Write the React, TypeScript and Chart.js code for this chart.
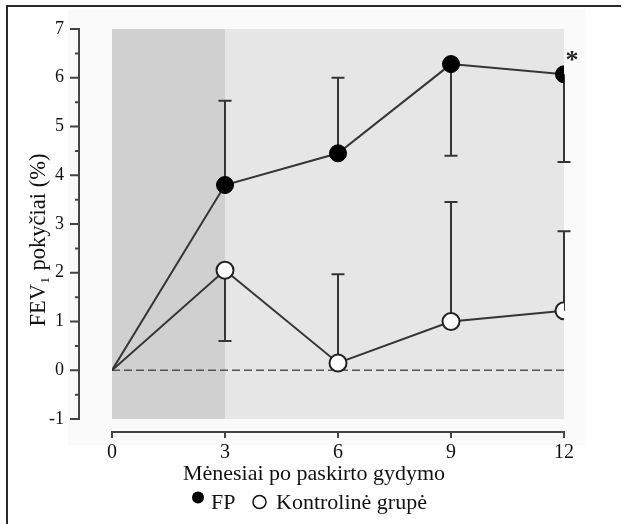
import React, { useEffect, useRef } from "react";
import { Chart, registerables } from "chart.js";

Chart.register(...registerables);

const months = [0, 3, 6, 9, 12];
const fpValues = [0, 3.8, 4.45, 6.28, 6.07];
const fpErrEnd = [null, 5.53, 6.0, 4.4, 4.27];
const ctrlValues = [0, 2.05, 0.15, 1.0, 1.22];
const ctrlErrEnd = [null, 0.6, 1.97, 3.45, 2.85];
const xTicks = [0, 3, 6, 9, 12];
const yMin = -1;
const yMax = 7;
const shadeEnd = 3;
const seriesNames = ["FP", "Kontrolinė grupė"];
const xTitle = "Mėnesiai po paskirto gydymo";
const yTitle = "FEV₁ pokyčiai (%)";
const significance = "*";

const SERIF = "'Liberation Serif', 'DejaVu Serif', serif";
const LINE = "#353535";

const decorPlugin = {
  id: "decor",
  beforeDraw(chart: any) {
    const ctx = chart.ctx;
    const { left, right, top, bottom } = chart.chartArea;
    const xs = chart.scales.x;
    ctx.save();
    ctx.fillStyle = "#ffffff";
    ctx.fillRect(0, 0, chart.width, chart.height);
    ctx.fillStyle = "#fafafa";
    ctx.fillRect(68, 10, 517, 435);
    ctx.strokeStyle = "#2a2a2a";
    ctx.lineWidth = 2;
    ctx.beginPath();
    ctx.moveTo(7, chart.height);
    ctx.lineTo(7, 6);
    ctx.lineTo(621, 6);
    ctx.stroke();
    const xShade = xs.getPixelForValue(shadeEnd);
    ctx.fillStyle = "#e6e6e6";
    ctx.fillRect(left, top, right - left, bottom - top);
    ctx.fillStyle = "#d0d0d0";
    ctx.fillRect(left, top, xShade - left, bottom - top);
    ctx.restore();
  },
  beforeDatasetsDraw(chart: any) {
    const ctx = chart.ctx;
    const xs = chart.scales.x;
    const ys = chart.scales.y;
    const { left, bottom } = chart.chartArea;
    ctx.save();
    ctx.strokeStyle = "#555";
    ctx.lineWidth = 1.5;
    ctx.setLineDash([8, 4]);
    ctx.beginPath();
    const y0 = ys.getPixelForValue(0);
    ctx.moveTo(xs.getPixelForValue(xTicks[0]), y0);
    ctx.lineTo(xs.getPixelForValue(xTicks[xTicks.length - 1]), y0);
    ctx.stroke();
    ctx.setLineDash([]);
    ctx.strokeStyle = LINE;
    ctx.lineWidth = 2;
    const drawErr = (vals: number[], ends: (number | null)[]) => {
      vals.forEach((v, i) => {
        const e = ends[i];
        if (e == null) return;
        const px = xs.getPixelForValue(months[i]);
        const py = ys.getPixelForValue(v);
        const pe = ys.getPixelForValue(e);
        ctx.beginPath();
        ctx.moveTo(px, py);
        ctx.lineTo(px, pe);
        ctx.moveTo(px - 6.5, pe);
        ctx.lineTo(px + 6.5, pe);
        ctx.stroke();
      });
    };
    drawErr(fpValues, fpErrEnd);
    drawErr(ctrlValues, ctrlErrEnd);
    const ax = left - 33;
    ctx.strokeStyle = "#444";
    ctx.lineWidth = 2;
    ctx.beginPath();
    ctx.moveTo(ax, ys.getPixelForValue(yMax) - 1);
    ctx.lineTo(ax, ys.getPixelForValue(yMin) + 1);
    for (let v = yMin; v <= yMax + 0.001; v += 0.5) {
      const py = ys.getPixelForValue(v);
      const major = Math.abs(v - Math.round(v)) < 0.01;
      ctx.moveTo(ax - (major ? 9 : 4), py);
      ctx.lineTo(ax, py);
    }
    ctx.stroke();
    const ay = bottom + 13;
    ctx.beginPath();
    ctx.moveTo(xs.getPixelForValue(xTicks[0]) - 1, ay);
    ctx.lineTo(xs.getPixelForValue(xTicks[xTicks.length - 1]) + 1, ay);
    xTicks.forEach((t) => {
      const px = xs.getPixelForValue(t);
      ctx.moveTo(px, ay);
      ctx.lineTo(px, ay + 6);
    });
    ctx.stroke();
    ctx.restore();
  },
  afterDraw(chart: any) {
    const ctx = chart.ctx;
    const xs = chart.scales.x;
    const ys = chart.scales.y;
    ctx.save();
    ctx.fillStyle = "#111";
    ctx.font = `22px ${SERIF}`;
    ctx.textAlign = "center";
    ctx.textBaseline = "alphabetic";
    ctx.fillText(xTitle, 314, 480);
    ctx.save();
    ctx.translate(45, 240);
    ctx.rotate(-Math.PI / 2);
    ctx.font = `22.5px ${SERIF}`;
    ctx.fillText(yTitle, 0, 0);
    ctx.restore();
    const last = months.length - 1;
    ctx.font = `bold 26px ${SERIF}`;
    ctx.fillStyle = "#222";
    ctx.fillText(significance, xs.getPixelForValue(months[last]) + 8, ys.getPixelForValue(fpValues[last]) - 6);
    ctx.fillStyle = "#000";
    ctx.beginPath();
    ctx.arc(198, 497.5, 6, 0, Math.PI * 2);
    ctx.fill();
    ctx.font = `22px ${SERIF}`;
    ctx.textAlign = "left";
    ctx.fillStyle = "#111";
    ctx.fillText(seriesNames[0], 211, 509);
    ctx.strokeStyle = "#111";
    ctx.lineWidth = 1.5;
    ctx.beginPath();
    ctx.arc(259.5, 502, 6.5, 0, Math.PI * 2);
    ctx.stroke();
    ctx.fillText(seriesNames[1], 276, 509);
    ctx.restore();
  },
};

export default function App() {
  const ref = useRef<HTMLCanvasElement>(null);
  useEffect(() => {
    if (!ref.current) return;
    const pr = months.map((m, i) => (i === 0 ? 0 : 8.5));
    const chart = new Chart(ref.current, {
      type: "line",
      data: {
        datasets: [
          {
            label: seriesNames[1],
            data: months.map((m, i) => ({ x: m, y: ctrlValues[i] })),
            borderColor: LINE,
            borderWidth: 2,
            pointRadius: pr,
            pointBackgroundColor: "#ffffff",
            pointBorderColor: "#222",
            pointBorderWidth: 2,
            tension: 0,
          },
          {
            label: seriesNames[0],
            data: months.map((m, i) => ({ x: m, y: fpValues[i] })),
            borderColor: LINE,
            borderWidth: 2,
            pointRadius: pr,
            pointBackgroundColor: "#000000",
            pointBorderColor: "#000000",
            pointBorderWidth: 1,
            tension: 0,
          },
        ],
      },
      options: {
        responsive: false,
        animation: false,
        events: [],
        layout: { padding: { top: 29, right: 58, bottom: 45, left: 0 } },
        plugins: { legend: { display: false }, tooltip: { enabled: false }, title: { display: false } },
        scales: {
          x: {
            type: "linear",
            min: xTicks[0],
            max: xTicks[xTicks.length - 1],
            afterBuildTicks: (s: any) => {
              s.ticks = xTicks.map((v) => ({ value: v }));
            },
            afterFit: (s: any) => {
              s.height = 60;
              s.paddingLeft = 0;
              s.paddingRight = 0;
            },
            grid: { display: false, drawTicks: false },
            border: { display: false },
            ticks: { padding: 22, color: "#111", font: { family: SERIF, size: 20 }, maxRotation: 0 },
          },
          y: {
            type: "linear",
            min: yMin,
            max: yMax,
            afterFit: (s: any) => {
              s.width = 112;
              s.paddingTop = 0;
              s.paddingBottom = 0;
            },
            grid: { display: false, drawTicks: false },
            border: { display: false },
            ticks: { stepSize: 1, padding: 48, color: "#111", font: { family: SERIF, size: 18 } },
          },
        },
      },
      plugins: [decorPlugin],
    });
    return () => chart.destroy();
  }, []);
  return (
    <div style={{ position: "fixed", left: 0, top: 0, width: 622, height: 524, background: "#fff" }}>
      <canvas ref={ref} width={622} height={524} style={{ display: "block" }} />
    </div>
  );
}
